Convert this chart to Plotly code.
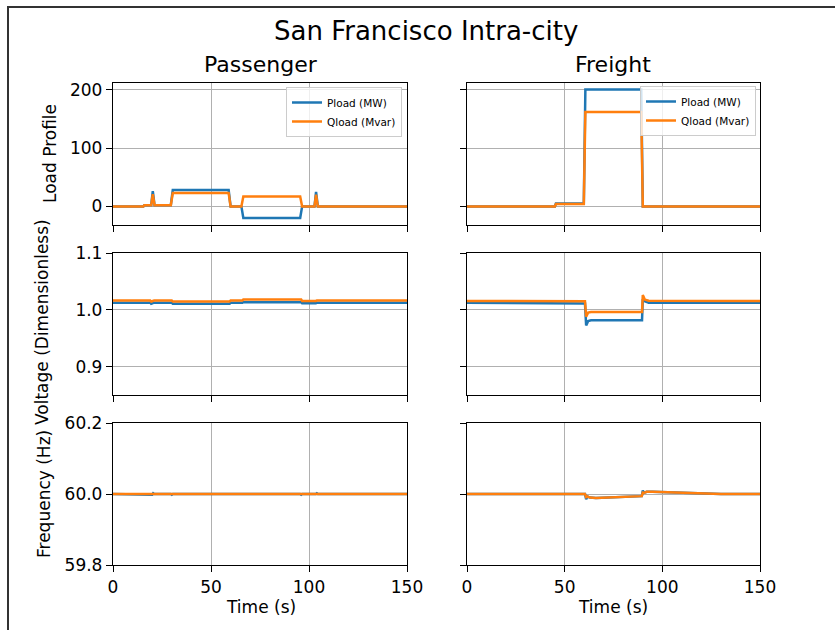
import plotly.graph_objects as go

W, H = 835, 630

# ---------------- data ----------------
# Passenger load profile
load_p_t = [0, 15.5, 16, 19.5, 20.3, 21.2, 22, 29.5, 30.5, 59, 60, 65.5, 66.5, 95.5, 96.5, 102.8, 103.6, 104.5, 150]
load_p_P = [0, 0, 2, 2, 26, 2, 2, 2, 28, 28, 0, 0, -20, -20, 0, 0, 25, 0, 0]
load_p_Q = [0, 0, 2, 2, 21, 2, 2, 2, 23, 23, 0, 0, 17, 17, 0, 0, 20, 0, 0]

# Freight load profile
load_f_t = [0, 45, 45.5, 59.8, 60.6, 89.2, 90, 150]
load_f_P = [0, 0, 5, 5, 201, 201, 0, 0]
load_f_Q = [0, 0, 4, 4, 162, 162, 0, 0]

# Passenger voltage
volt_p_t = [0, 19, 19.5, 20.5, 21, 30, 30.5, 59.5, 60, 66, 66.5, 96, 96.5, 103.5, 104, 150]
volt_p_P = [1.0125, 1.0125, 1.0105, 1.0125, 1.0125, 1.0125, 1.0105, 1.0108, 1.0125, 1.0125,
            1.0135, 1.0135, 1.0115, 1.0115, 1.0125, 1.0125]
volt_p_Q = [1.0162, 1.0162, 1.0145, 1.0162, 1.0162, 1.0162, 1.0145, 1.0147, 1.0162, 1.0162,
            1.0182, 1.0182, 1.0155, 1.0155, 1.0162, 1.0162]

# Freight voltage
volt_f_t = [0, 45, 45.5, 60.4, 61, 62, 63.5, 89.6, 90, 91, 93, 150]
volt_f_P = [1.0122, 1.0122, 1.0112, 1.0112, 0.9726, 0.980, 0.9815, 0.9815, 1.019, 1.015, 1.0125, 1.0122]
volt_f_Q = [1.0157, 1.0157, 1.0152, 1.0152, 0.988, 0.995, 0.996, 0.996, 1.026, 1.018, 1.016, 1.0157]

# Passenger frequency
freq_p_t = [0, 19.5, 20, 20.5, 21, 29.5, 30, 30.5, 59, 59.5, 60, 65.5, 66, 66.5, 95.5, 96, 96.5,
            103.5, 104, 104.5, 150]
freq_p_P = [60, 60, 59.998, 60.002, 60, 60, 59.998, 60, 60, 60.002, 60, 60, 60.002, 60, 60,
            59.998, 60, 60, 60.002, 60, 60]
freq_p_Q = [60, 60, 59.999, 60.001, 60, 60, 59.999, 60, 60, 60.001, 60, 60, 60.001, 60, 60,
            59.999, 60, 60, 60.001, 60, 60]

# Freight frequency
freq_f_t = [0, 60.4, 61, 61.6, 63, 66, 89.5, 90, 90.5, 92, 95, 110, 130, 150]
freq_f_P = [60, 60, 59.985, 59.993, 59.990, 59.989, 59.994, 60.010, 60.003, 60.006, 60.006, 60.003, 60.0, 60.0]
freq_f_Q = [60, 60, 59.991, 59.993, 59.990, 59.989, 59.994, 60.004, 60.003, 60.006, 60.006, 60.003, 60.0, 60.0]

x_ticks = [0, 50, 100, 150]
load_ticks = [0, 100, 200]
volt_ticks = [0.9, 1.0, 1.1]
volt_labels = ["0.9", "1.0", "1.1"]
freq_ticks = [59.8, 60.0, 60.2]
freq_labels = ["59.8", "60.0", "60.2"]

series_names = ["Pload (MW)", "Qload (Mvar)"]
colors = ["#1f77b4", "#ff7f0e"]

# ---------------- layout geometry (pixels) ----------------
col_px = [(113, 407), (467, 760)]
row_px = [(83, 225), (253, 395), (423, 565)]

def px_x(p):
    return p / W

def px_y(p):
    return 1 - p / H

panels = [
    [(load_p_t, load_p_P, load_p_Q), (load_f_t, load_f_P, load_f_Q)],
    [(volt_p_t, volt_p_P, volt_p_Q), (volt_f_t, volt_f_P, volt_f_Q)],
    [(freq_p_t, freq_p_P, freq_p_Q), (freq_f_t, freq_f_P, freq_f_Q)],
]
y_ranges = [[-32, 212], [0.85, 1.1], [59.8, 60.2]]
y_tickvals = [load_ticks, volt_ticks, freq_ticks]
y_ticktext = [[str(v) for v in load_ticks], volt_labels, freq_labels]

fig = go.Figure()
layout = {}
FONT = "DejaVu Sans"

for r in range(3):
    for c in range(2):
        i = r * 2 + c + 1
        xa = "x" if i == 1 else f"x{i}"
        ya = "y" if i == 1 else f"y{i}"
        t, P, Q = panels[r][c]
        leg = "legend" if c == 0 else "legend2"
        for name, vals, col in zip(series_names, [P, Q], colors):
            fig.add_trace(go.Scatter(
                x=t, y=vals, mode="lines", name=name,
                line=dict(color=col, width=2.5),
                xaxis=xa, yaxis=ya,
                showlegend=(r == 0), legend=leg,
            ))
        common = dict(
            showline=True, mirror=True, linecolor="black", linewidth=1.3,
            ticks="outside", ticklen=6, tickwidth=1.3, tickcolor="black",
            showgrid=True, gridcolor="#b0b0b0", gridwidth=1.2, zeroline=False,
            automargin=False,
            tickfont=dict(family=FONT, size=17, color="black"),
        )
        layout["xaxis" if i == 1 else f"xaxis{i}"] = dict(
            domain=[px_x(col_px[c][0]), px_x(col_px[c][1])],
            anchor=ya, range=[0, 150], tickvals=x_ticks,
            showticklabels=(r == 2), **common,
        )
        layout["yaxis" if i == 1 else f"yaxis{i}"] = dict(
            domain=[px_y(row_px[r][1]), px_y(row_px[r][0])],
            anchor=xa, range=y_ranges[r], tickvals=y_tickvals[r], ticktext=y_ticktext[r],
            showticklabels=(c == 0), **common,
        )

annotations = []
def text(x, y, s, size, angle=0):
    annotations.append(dict(
        x=px_x(x), y=px_y(y), xref="paper", yref="paper", text=s, showarrow=False,
        textangle=angle, xanchor="center", yanchor="middle",
        font=dict(family=FONT, size=size, color="black"),
    ))

text(426, 31, "San Francisco Intra-city", 26)
text(261, 65, "Passenger", 22)
text(613, 65, "Freight", 22)
text(50, 154, "Load Profile", 17, -90)
text(42, 322, "Voltage (Dimensionless)", 17, -90)
text(44, 494, "Frequency (Hz)", 17, -90)
text(261, 607, "Time (s)", 17)
text(613, 607, "Time (s)", 17)

legend_common = dict(
    xref="paper", yref="paper", xanchor="right", yanchor="top",
    bgcolor="rgba(255,255,255,0.8)", bordercolor="#cccccc", borderwidth=1,
    font=dict(family=FONT, size=10.5, color="black"),
    itemwidth=30, tracegroupgap=0,
)

fig.update_layout(
    template="none",
    width=W, height=H,
    margin=dict(l=0, r=0, t=0, b=0, pad=0, autoexpand=False),
    paper_bgcolor="white", plot_bgcolor="white",
    font=dict(family=FONT, color="black"),
    annotations=annotations,
    legend=dict(x=px_x(402), y=px_y(87), **legend_common),
    legend2=dict(x=px_x(756), y=px_y(86), **legend_common),
    shapes=[dict(type="rect", xref="paper", yref="paper",
                 x0=px_x(8), x1=1.05, y0=-0.05, y1=px_y(7),
                 line=dict(color="#333333", width=2), fillcolor="rgba(0,0,0,0)")],
    **layout,
)

fig.write_html(
    "out.html",
    config={"displayModeBar": False},
    post_script="document.body.style.margin='0';document.body.style.overflow='hidden';",
)
